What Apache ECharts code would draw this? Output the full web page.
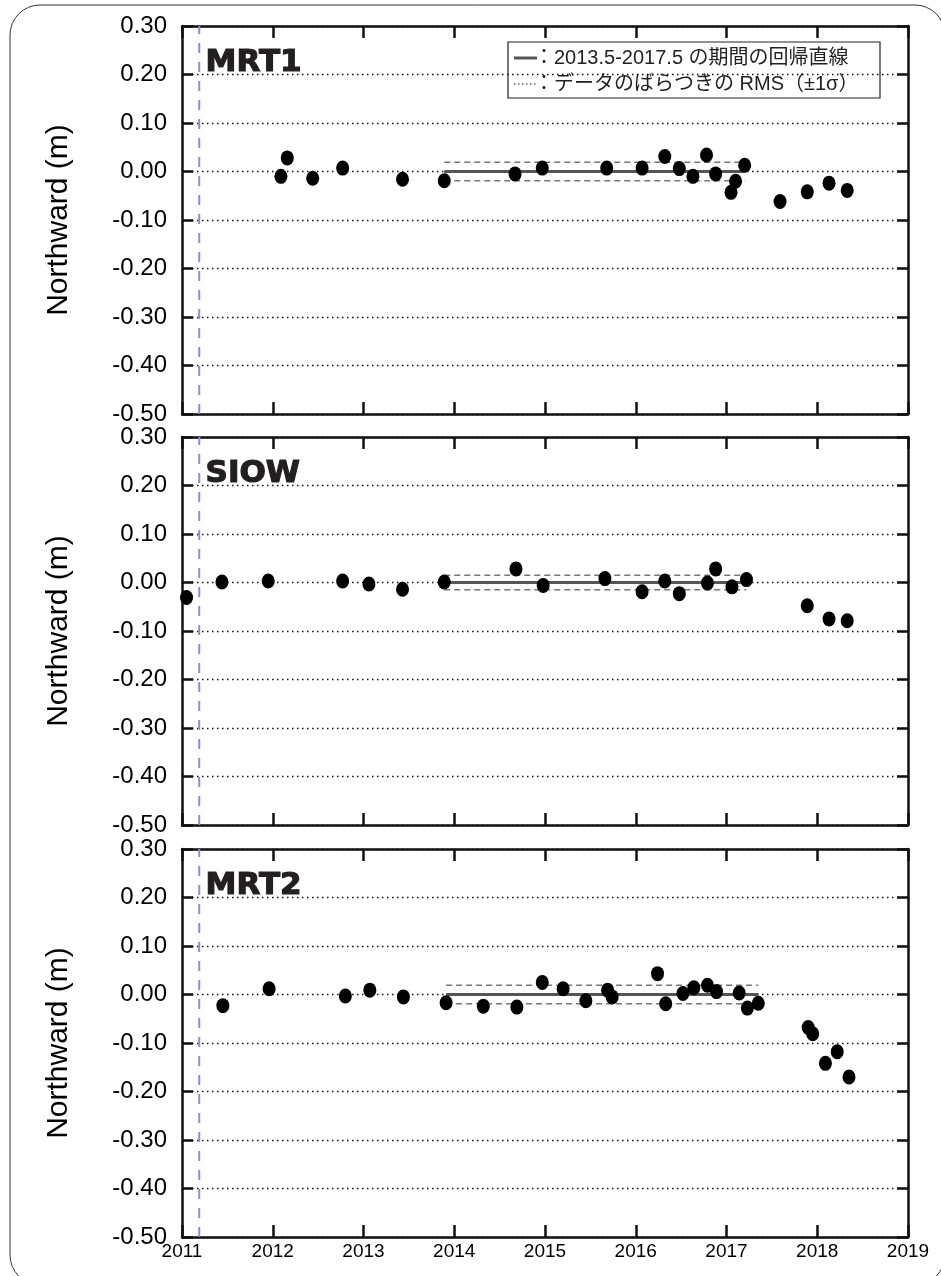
<!DOCTYPE html>
<html>
<head>
<meta charset="utf-8">
<script src="https://cdn.jsdelivr.net/npm/echarts@6/dist/echarts.min.js"></script>
<style>
html,body{margin:0;padding:0;background:#fff;}
#chart{width:941px;height:1276px;}
</style>
</head>
<body>
<div id="chart"></div>
<script>
// ---- tick labels ----
const xTickLabels = ['2011','2012','2013','2014','2015','2016','2017','2018','2019'];
const yTickLabels = ['-0.50','-0.40','-0.30','-0.20','-0.10','0.00','0.10','0.20','0.30'];
const stationNames = ['MRT1','SIOW','MRT2'];
const quakeYear = 2011.19;

// ---- MRT1 ----
const mrt1Years = [2012.09,2012.16,2012.44,2012.77,2013.43,2013.89,2014.67,2014.97,2015.68,2016.07,2016.32,2016.48,2016.63,2016.78,2016.88,2017.05,2017.10,2017.20,2017.59,2017.89,2018.13,2018.33];
const mrt1North = [-0.010,0.028,-0.014,0.007,-0.016,-0.019,-0.005,0.007,0.007,0.007,0.031,0.006,-0.010,0.034,-0.005,-0.043,-0.020,0.013,-0.062,-0.042,-0.024,-0.039];
const mrt1FitYears = [2013.89,2017.20];
const mrt1FitNorth = [0.000,0.000];
const mrt1Rms = 0.019;

// ---- SIOW ----
const siowYears = [2011.05,2011.44,2011.95,2012.77,2013.06,2013.43,2013.89,2014.68,2014.98,2015.66,2016.07,2016.32,2016.48,2016.79,2016.88,2017.06,2017.22,2017.89,2018.13,2018.33];
const siowNorth = [-0.031,0.001,0.003,0.003,-0.003,-0.014,0.001,0.028,-0.006,0.008,-0.019,0.003,-0.023,-0.001,0.028,-0.009,0.006,-0.048,-0.075,-0.079];
const siowFitYears = [2013.89,2017.22];
const siowFitNorth = [0.000,0.000];
const siowRms = 0.015;

// ---- MRT2 ----
const mrt2Years = [2011.45,2011.96,2012.80,2013.07,2013.44,2013.91,2014.32,2014.69,2014.97,2015.20,2015.45,2015.69,2015.74,2016.24,2016.33,2016.52,2016.64,2016.79,2016.89,2017.14,2017.23,2017.35,2017.90,2017.95,2018.09,2018.22,2018.35];
const mrt2North = [-0.023,0.012,-0.003,0.009,-0.005,-0.017,-0.024,-0.026,0.025,0.012,-0.013,0.009,-0.005,0.043,-0.019,0.002,0.014,0.019,0.006,0.003,-0.028,-0.018,-0.068,-0.081,-0.142,-0.118,-0.170];
const mrt2FitYears = [2013.91,2017.35];
const mrt2FitNorth = [0.000,0.000];
const mrt2Rms = 0.019;

const stations = [
  {years: mrt1Years, north: mrt1North, fitX: mrt1FitYears, fitY: mrt1FitNorth, rms: mrt1Rms},
  {years: siowYears, north: siowNorth, fitX: siowFitYears, fitY: siowFitNorth, rms: siowRms},
  {years: mrt2Years, north: mrt2North, fitX: mrt2FitYears, fitY: mrt2FitNorth, rms: mrt2Rms}
];

const gridTops = [26, 437, 849];
const gridH = 388;
const FONT = '"Liberation Sans", Arial, "Noto Sans CJK JP", sans-serif';
const frameColor = '#111';

const grids = [], xAxes = [], yAxes = [], series = [], graphics = [];

stations.forEach((st, i) => {
  grids.push({left: 182, right: 33, top: gridTops[i], height: gridH});
  const isLast = i === stations.length - 1;
  xAxes.push({
    type: 'value', gridIndex: i, position: 'bottom', min: 2011, max: 2019, interval: 1,
    axisLine: {onZero: false, lineStyle: {color: frameColor, width: 2.5}},
    axisTick: {inside: true, length: 12, lineStyle: {color: frameColor, width: 2.5}},
    axisLabel: {show: isLast, color: '#000', fontFamily: FONT, fontSize: 19, margin: 5,
      formatter: v => xTickLabels[Math.round(v - 2011)]},
    splitLine: {show: false}
  });
  xAxes.push({
    type: 'value', gridIndex: i, position: 'top', min: 2011, max: 2019, interval: 1,
    axisLine: {onZero: false, lineStyle: {color: frameColor, width: 2.5}},
    axisTick: {inside: true, length: 12, lineStyle: {color: frameColor, width: 2.5}},
    axisLabel: {show: false},
    splitLine: {show: false}
  });
  yAxes.push({
    type: 'value', gridIndex: i, position: 'left', min: -0.5, max: 0.3, interval: 0.1,
    name: 'Northward (m)', nameLocation: 'middle', nameGap: 108, nameRotate: 90,
    nameTextStyle: {color: '#000', fontFamily: FONT, fontSize: 30},
    axisLine: {onZero: false, lineStyle: {color: frameColor, width: 2.5}},
    axisTick: {inside: true, length: 11, lineStyle: {color: frameColor, width: 2.5}},
    axisLabel: {color: '#000', fontFamily: FONT, fontSize: 24, margin: 15,
      formatter: v => yTickLabels[Math.round((v + 0.5) / 0.1)]},
    splitLine: {show: true, lineStyle: {color: '#111', width: 1.4, type: [1.5, 3.5]}}
  });
  yAxes.push({
    type: 'value', gridIndex: i, position: 'right', min: -0.5, max: 0.3, interval: 0.1,
    axisLine: {onZero: false, lineStyle: {color: frameColor, width: 2.5}},
    axisTick: {inside: true, length: 11, lineStyle: {color: frameColor, width: 2.5}},
    axisLabel: {show: false},
    splitLine: {show: false}
  });
  const xi = i * 2, yi = i * 2;
  series.push({
    type: 'line', xAxisIndex: xi, yAxisIndex: yi, symbol: 'none', silent: true, z: 1,
    data: [[quakeYear, -0.5], [quakeYear, 0.3]],
    lineStyle: {color: '#9b87c8', width: 2, type: [10, 9]}
  });
  [1, -1].forEach(s => {
    series.push({
      type: 'line', xAxisIndex: xi, yAxisIndex: yi, symbol: 'none', silent: true, z: 2,
      data: st.fitX.map((x, k) => [x, st.fitY[k] + s * st.rms]),
      lineStyle: {color: '#777', width: 1.5, type: [6, 4]}
    });
  });
  series.push({
    type: 'line', xAxisIndex: xi, yAxisIndex: yi, symbol: 'none', silent: true, z: 3,
    data: st.fitX.map((x, k) => [x, st.fitY[k]]),
    lineStyle: {color: '#555', width: 3}
  });
  series.push({
    type: 'scatter', xAxisIndex: xi, yAxisIndex: yi, z: 5, clip: false,
    symbol: 'circle', symbolSize: [13, 15],
    itemStyle: {color: '#000', opacity: 1},
    data: st.years.map((x, k) => [x, st.north[k]])
  });
  graphics.push({
    type: 'text', left: 205, top: gridTops[i] + 21, z: 50,
    style: {text: stationNames[i], fill: '#231f20', stroke: '#231f20', lineWidth: 1.2,
      font: 'bold 31px "DejaVu Sans", sans-serif'}
  });
});

const LFONT = '20px "Liberation Sans", "Noto Sans CJK JP", sans-serif';
graphics.push({
  type: 'group', z: 100,
  children: [
    {type: 'rect', shape: {x: 508, y: 42, width: 372, height: 56},
      style: {fill: '#fff', stroke: '#222', lineWidth: 1.2}},
    {type: 'line', shape: {x1: 514, y1: 58, x2: 537, y2: 58}, style: {stroke: '#555', lineWidth: 3}},
    {type: 'text', x: 534, y: 58, style: {text: '：2013.5-2017.5 の期間の回帰直線', fill: '#222',
      font: LFONT, verticalAlign: 'middle'}},
    {type: 'line', shape: {x1: 514, y1: 84, x2: 537, y2: 84}, style: {stroke: '#666', lineWidth: 1.3, lineDash: [1.5, 2.5]}},
    {type: 'text', x: 534, y: 84, style: {text: '：データのばらつきの RMS（±1σ）', fill: '#222',
      font: LFONT, verticalAlign: 'middle'}}
  ]
});
graphics.push({
  type: 'rect', z: 0, silent: true,
  shape: {x: 10, y: 5, width: 935, height: 1280, r: 30},
  style: {fill: 'none', stroke: '#333', lineWidth: 1}
});

const chart = echarts.init(document.getElementById('chart'), null, {renderer: 'canvas'});
chart.setOption({
  animation: false,
  backgroundColor: '#fff',
  grid: grids,
  xAxis: xAxes,
  yAxis: yAxes,
  series: series,
  graphic: graphics
});
</script>
</body>
</html>
